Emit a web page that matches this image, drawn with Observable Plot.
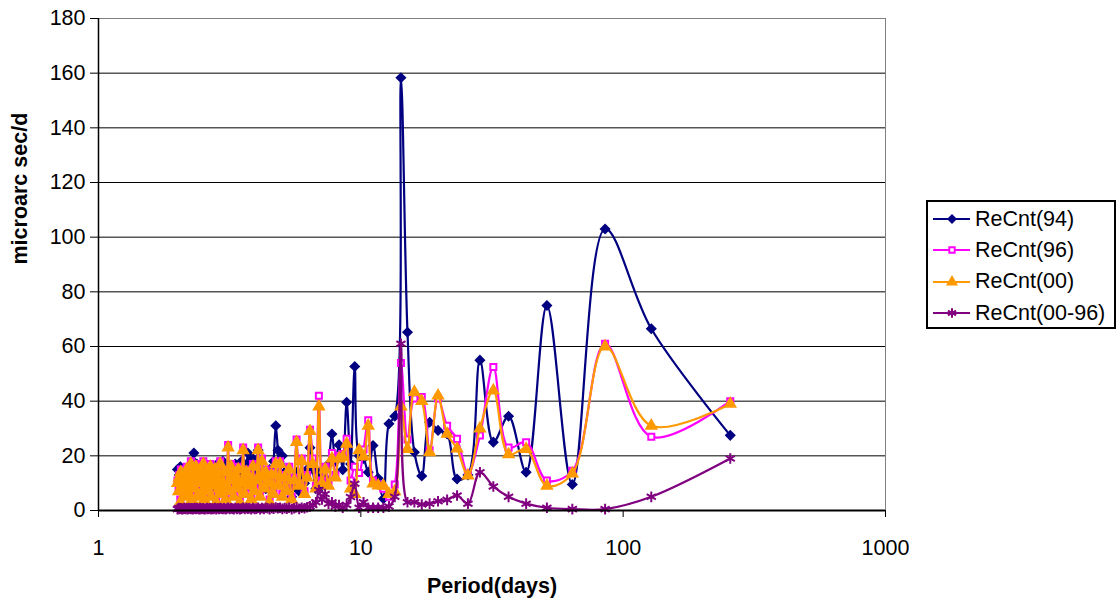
<!DOCTYPE html>
<html><head><meta charset="utf-8">
<script src="https://cdn.jsdelivr.net/npm/d3@7"></script>
<script src="https://cdn.jsdelivr.net/npm/@observablehq/plot@0.6"></script>
<style>
body{margin:0;background:#fff;font-family:"Liberation Sans",Arial,sans-serif;}
#wrap{position:relative;width:1116px;height:602px;}
#legend{position:absolute;left:926px;top:200px;width:186px;height:125px;border:2px solid #000;background:#fff;}
.row{position:absolute;left:0;height:30px;display:flex;align-items:center;font-size:21.5px;color:#000;white-space:nowrap;}
.row svg{display:block;}
</style></head><body><div id="wrap"></div>
<script>
const periods = [256,128,85.33,64,51.2,42.67,36.57,32,28.44,25.6,23.27,21.33,19.69,18.29,17.07,16,15.06,14.22,13.47,12.8,
12.19,11.64,11.13,10.67,10.24,9.85,9.48,9.14,8.83,8.53,8.26,8,7.76,7.53,7.31,7.11,6.92,6.74,6.56,6.4,
6.24,6.1,5.95,5.82,5.69,5.57,5.45,5.33,5.22,5.12,5.02,4.92,4.83,4.74,4.65,4.57,4.49,4.41,4.34,4.27,
4.2,4.13,4.06,4,3.94,3.88,3.82,3.76,3.71,3.66,3.61,3.56,3.51,3.46,3.41,3.37,3.32,3.28,3.24,3.2,
3.16,3.12,3.08,3.05,3.01,2.98,2.94,2.91,2.88,2.84,2.81,2.78,2.75,2.72,2.69,2.67,2.64,2.61,2.59,2.56,
2.53,2.51,2.49,2.46,2.44,2.42,2.39,2.37,2.35,2.33,2.31,2.29,2.27,2.25,2.23,2.21,2.19,2.17,2.15,2.13,
2.12,2.1,2.08,2.06,2.05,2.03,2.02,2];

const reCnt94 = [27.5,66.5,103,9.5,75,14,34.5,25,55,13,11.5,28,29.3,32.3,12.6,21.3,65.2,158.3,34.5,31.7,
4.3,11.8,23.8,14,19,20,52.7,17,39.6,14.9,24,18,28,17,12,9,14,8,15,23,
15,10,12,7,14,9,5,11,8,13,20,14,22,31,18,10,15,12,8,11,
14,10,22,17,12,19,14,9,21,16,13,8,18,11,15,9,17,12,7,14,
10,16,12,9,15,18,11,8,13,17,12,15,9,14,11,16,13,10,12,15,
9,13,11,16,14,10,12,17,15,13,21,18,14,12,15,11,9,13,12,14,
10,12,9,11,16,13,10,15];

const reCnt96 = [40,27,61,14.5,11,25,23,52.5,27.4,13.4,26.2,31,41,22,41.5,41,26,54,9.5,5,
8,9.5,11,33,22.3,13.7,16,11,26.2,20.7,20,13,21,10,16,11,42,9,19,29.5,
13,7,19,10,26,12,5,16,8,13,6,18,10,18,7,14,4,11,15,9,
19,6,23,12,8,17,5,13,10,15,7,23,11,4,16,9,14,6,12,17,
8,24,10,5,15,11,7,18,9,13,4,16,10,14,6,17,12,8,15,10,
5,18,13,7,16,11,14,6,17,9,12,15,5,18,10,13,7,16,11,14,
6,12,9,15,4,13,8,11];

const reCnt00 = [39,31,60,13.5,9,22.5,20.5,43.9,30,12.8,22.6,28,42,21.3,40,43.3,22.5,38,7,6,
9,9.1,9.8,31,19.7,22,6,8,24.4,19.5,19,12,19,9,15,10,38,8,17,29,
12,6,18,9,25,11,4,15,7,12,5,17,9,17,6,13,3,10,14,8,
18,5,22,11,7,16,4,12,9,14,6,22,10,3,15,8,13,5,11,16,
7,23,9,4,14,10,6,17,8,12,3,15,9,13,5,16,11,7,14,9,
4,17,12,6,15,10,13,5,16,8,11,14,4,17,9,12,6,15,10,13,
5,11,8,14,3,12,7,10];

const reCnt0096 = [19,5,0.5,0.5,1,2.5,5,8.8,14,2.5,5.5,3.9,3.4,2.5,2.2,3,3,61,5,1.5,
1,1,1,1,3,1,9.8,4.9,2,1,2,1.5,3,2.5,6,4,7.5,3,2,1.5,
1.2,0.8,1,0.6,1.2,0.8,0.5,1,0.7,0.9,0.6,1,0.8,1.1,0.7,0.9,0.5,0.8,1,0.6,
0.9,0.5,1,0.7,0.6,0.9,0.5,0.8,0.7,0.9,0.6,1,0.7,0.5,0.8,0.6,0.9,0.5,0.7,0.8,
0.6,1,0.7,0.5,0.8,0.6,0.7,0.9,0.6,0.8,0.5,0.9,0.6,0.7,0.5,0.8,0.7,0.6,0.9,0.6,
0.5,0.8,0.7,0.6,0.9,0.5,0.7,0.8,0.6,0.9,0.7,0.5,0.8,0.6,0.7,0.9,0.5,0.8,0.6,0.7,
0.9,0.6,0.5,0.8,0.7,0.6,0.9,0.5];

const seriesNames = ["ReCnt(94)", "ReCnt(96)", "ReCnt(00)", "ReCnt(00-96)"];
const seriesColors = ["#000080", "#FF00FF", "#FF9900", "#800080"];
const yTicks = [0, 20, 40, 60, 80, 100, 120, 140, 160, 180];
const xTicks = [1, 10, 100, 1000];

const seriesValues = [reCnt94, reCnt96, reCnt00, reCnt0096];
const tables = seriesValues.map(vals => periods.map((p, i) => ({period: p, value: vals[i]})));

const markerStyles = [
  {symbol: "diamond2", r: 5, fill: seriesColors[0], stroke: "none"},
  {symbol: "square", r: 3.4, fill: "white", stroke: seriesColors[1], strokeWidth: 2},
  {symbol: "triangle", r: 5, fill: seriesColors[2], stroke: "none"},
  {symbol: "asterisk", r: 5, fill: "none", stroke: seriesColors[3], strokeWidth: 2}
];

const seriesMarks = tables.flatMap((t, i) => [
  Plot.line(t, {x: "period", y: "value", stroke: seriesColors[i], strokeWidth: 2.2, curve: "catmull-rom"}),
  Plot.dot(t, {x: "period", y: "value", ...markerStyles[i]})
]);

const chart = Plot.plot({
  width: 1116, height: 602,
  marginLeft: 98, marginRight: 231, marginTop: 18, marginBottom: 92,
  style: {fontFamily: "'Liberation Sans', Arial, sans-serif", fontSize: "21.5px", background: "white", color: "black", overflow: "visible"},
  x: {type: "log", domain: [1, 1000]},
  y: {domain: [0, 180]},
  marks: [
    Plot.gridY(yTicks.filter(d => d > 0 && d < 180), {stroke: "black", strokeOpacity: 1, strokeWidth: 1}),
    Plot.ruleY([180], {stroke: "#808080", strokeWidth: 1}),
    Plot.ruleX([1000], {stroke: "#808080", strokeWidth: 1}),
    Plot.axisY({ticks: yTicks, tickSize: 8, tickPadding: 5, label: null, tickFormat: d => String(d)}),
    Plot.axisX({ticks: xTicks, tickSize: 7, tickPadding: 22, label: null, tickFormat: d => String(d)}),
    Plot.text(["microarc sec/d"], {frameAnchor: "left", rotate: -90, dx: -78, fontWeight: "bold", fontSize: 21.5}),
    Plot.text(["Period(days)"], {frameAnchor: "bottom", dy: 82, fontWeight: "bold", fontSize: 21.5}),
    ...seriesMarks,
    Plot.ruleX([1], {stroke: "black", strokeWidth: 1.5}),
    Plot.ruleY([0], {stroke: "black", strokeWidth: 2.2})
  ]
});

const wrap = document.getElementById("wrap");
wrap.appendChild(chart);

// legend
const legend = document.createElement("div");
legend.id = "legend";
const symbolTypes = [d3.symbolDiamond2, d3.symbolSquare, d3.symbolTriangle, d3.symbolAsterisk];
const rowCenters = [17, 48, 79.5, 111];
seriesNames.forEach((name, i) => {
  const row = document.createElement("div");
  row.className = "row";
  row.style.top = (rowCenters[i] - 15) + "px";
  const ms = markerStyles[i];
  const path = d3.symbol(symbolTypes[i], Math.PI * ms.r * ms.r * 0.8)();
  row.innerHTML = `<svg width="47" height="30"><line x1="5" x2="42" y1="15" y2="15" stroke="${seriesColors[i]}" stroke-width="2"/>` +
    `<path transform="translate(24,15)" d="${path}" fill="${ms.fill}" stroke="${ms.stroke}" stroke-width="${ms.strokeWidth || 0}"/></svg>` +
    `<span>${name}</span>`;
  legend.appendChild(row);
});
wrap.appendChild(legend);
</script>
</body></html>
